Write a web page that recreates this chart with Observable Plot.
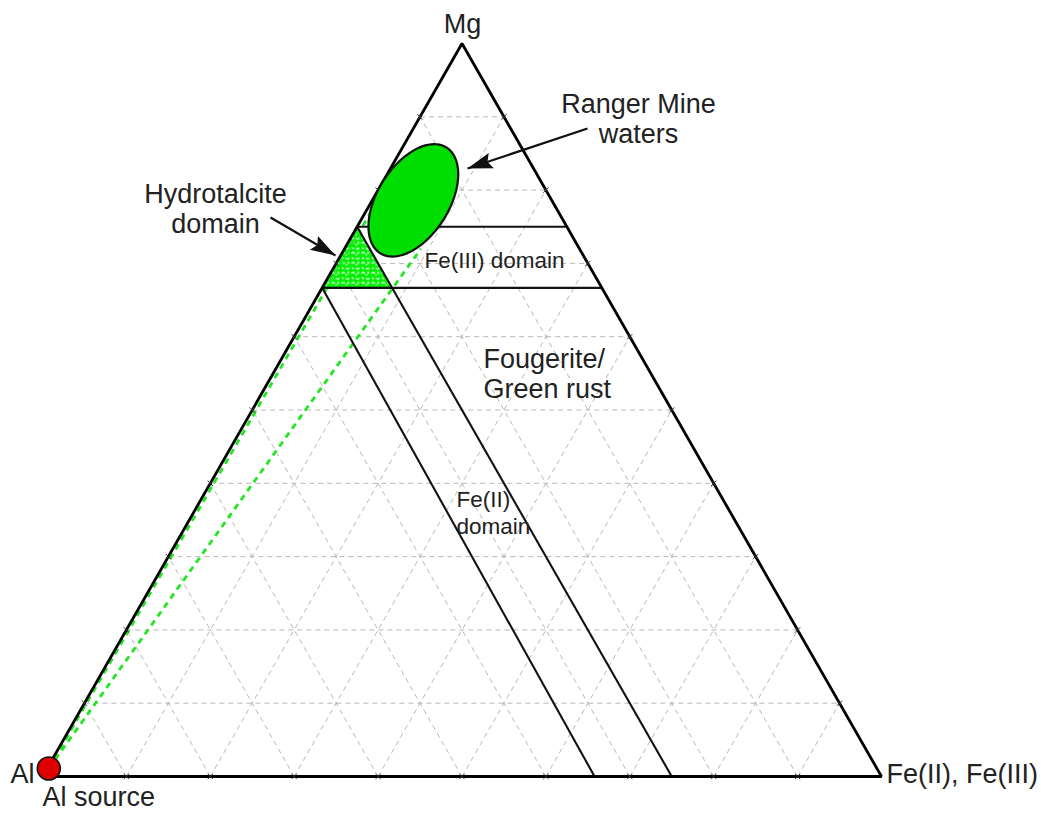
<!DOCTYPE html>
<html><head><meta charset="utf-8">
<script src="https://cdn.jsdelivr.net/npm/d3@7"></script>
<script src="https://cdn.jsdelivr.net/npm/@observablehq/plot@0.6"></script>
<style>html,body{margin:0;padding:0;background:#fff}</style>
</head><body><div id="chart"></div>
<script>
// ---------- data (ternary fractions: mg, fe; al = 1 - mg - fe) ----------
const gridFractions = [0.1, 0.2, 0.3, 0.4, 0.5, 0.6, 0.7, 0.8, 0.9];
const vertices = [
  {label: "Al", mg: 0, fe: 0},
  {label: "Fe(II), Fe(III)", mg: 0, fe: 1},
  {label: "Mg", mg: 1, fe: 0}
];
const hydrotalciteDomain = [
  {mg: 0.75, fe: 0}, {mg: 2 / 3, fe: 0}, {mg: 2 / 3, fe: 1 / 12}
];
const domainBoundaries = [
  {mg1: 0.75, fe1: 0, mg2: 0.75, fe2: 0.25},   // Mg = 3/4
  {mg1: 2 / 3, fe1: 0, mg2: 2 / 3, fe2: 1 / 3}, // Mg = 2/3
  {mg1: 0.75, fe1: 0, mg2: 0, fe2: 0.75},      // Al = 1/4
  {mg1: 2 / 3, fe1: 0, mg2: 0, fe2: 0.658}     // Al ~ 1/3
];
const alSource = [{mg: 0.011, fe: 0.002}];
const mixingLineEnds = [{mg: 0.80, fe: 0.0065}, {mg: 0.72, fe: 0.091}];
// Ranger Mine waters field: centre (ternary) and two conjugate half-axes (plot units)
const rangerCentre = {mg: 0.786, fe: 0.049};
const rangerAxisU = [0.0394, 0.0722];
const rangerAxisV = [0.0362, -0.0259];
// labels (plot x/y units: Al=(0,0), Fe=(1,0), Mg=(0.5,1))
const vertexLabels = [
  {text: "Mg", x: 0.5006, y: 1.015, anchor: "middle"},
  {text: "Al", x: -0.0381, y: -0.0095, anchor: "start"},
  {text: "Al source", x: 0.0, y: -0.0396, anchor: "start"},
  {text: "Fe(II), Fe(III)", x: 1.006, y: -0.0082, anchor: "start"}
];
const bigLabels = [
  {text: "Ranger Mine\nwaters", x: 0.7104, y: 0.8636, anchor: "middle"},
  {text: "Hydrotalcite\ndomain", x: 0.2062, y: 0.7408, anchor: "middle"},
  {text: "Fougerite/\nGreen rust", x: 0.5256, y: 0.5157, anchor: "start"}
];
const smallLabels = [
  {text: "Fe(III) domain", x: 0.4553, y: 0.6944},
  {text: "Fe(II)\ndomain", x: 0.4934, y: 0.3315}
];
const arrows = [
  {x1: 0.6496, y1: 0.8840, x2: 0.5066, y2: 0.8295},
  {x1: 0.2718, y1: 0.7626, x2: 0.3492, y2: 0.7108}
];

// ---------- helpers ----------
const tx = d => d.fe + d.mg / 2;
const ty = d => d.mg;
const W = 1041, H = 814, mL = 42, mR = 160, mT = 43, mB = 38;
const xs = Plot.scale({x: {domain: [0, 1], range: [mL, W - mR]}});
const ys = Plot.scale({y: {domain: [0, 1], range: [H - mB, mT]}});

const gridLines = [];
for (const k of gridFractions) {
  gridLines.push({a: {mg: k, fe: 0}, b: {mg: k, fe: 1 - k}});
  gridLines.push({a: {mg: 0, fe: k}, b: {mg: 1 - k, fe: k}});
  gridLines.push({a: {mg: 0, fe: 1 - k}, b: {mg: 1 - k, fe: 0}});
}
const edgeTicks = [];
for (const k of gridFractions) {
  edgeTicks.push({mg: 0, fe: k}, {mg: k, fe: 0}, {mg: k, fe: 1 - k});
}
const mixingLines = mixingLineEnds.map(e => ({a: alSource[0], b: e}));
const ellipse = d3.range(0, 361, 4).map(deg => {
  const t = deg * Math.PI / 180;
  return {
    x: tx(rangerCentre) + Math.cos(t) * rangerAxisU[0] + Math.sin(t) * rangerAxisV[0],
    y: ty(rangerCentre) + Math.cos(t) * rangerAxisU[1] + Math.sin(t) * rangerAxisV[1]
  };
});
const arrowHead = {
  draw(ctx) { ctx.moveTo(0, 0); ctx.lineTo(8, 25); ctx.lineTo(0, 21); ctx.lineTo(-8, 25); ctx.closePath(); }
};
const headAngle = a => {
  const dx = xs.apply(a.x2) - xs.apply(a.x1), dy = ys.apply(a.y2) - ys.apply(a.y1);
  return Math.atan2(dx, -dy) * 180 / Math.PI;
};

const green = "#00dd00";
const font = "'Liberation Sans', Arial, Helvetica, sans-serif";

const plot = Plot.plot({
  width: W, height: H, marginLeft: mL, marginRight: mR, marginTop: mT, marginBottom: mB,
  x: {domain: [0, 1], axis: null}, y: {domain: [0, 1], axis: null},
  style: {fontFamily: font, background: "#fff", overflow: "visible"},
  marks: [
    Plot.link(gridLines, {x1: d => tx(d.a), y1: d => ty(d.a), x2: d => tx(d.b), y2: d => ty(d.b),
      stroke: "#b8b8b8", strokeWidth: 1, strokeDasharray: "5,4"}),
    Plot.line(hydrotalciteDomain, {x: tx, y: ty, curve: "linear-closed", fill: "url(#speckle)", stroke: "none"}),
    Plot.link(mixingLines, {x1: d => tx(d.a), y1: d => ty(d.a), x2: d => tx(d.b), y2: d => ty(d.b),
      stroke: "#22e622", strokeWidth: 2.8, strokeDasharray: "6,5"}),
    Plot.link(domainBoundaries, {x1: d => tx({mg: d.mg1, fe: d.fe1}), y1: d => d.mg1,
      x2: d => tx({mg: d.mg2, fe: d.fe2}), y2: d => d.mg2, stroke: "#111", strokeWidth: 2.1}),
    Plot.line(vertices, {x: tx, y: ty, curve: "linear-closed", stroke: "#000", strokeWidth: 2.8, strokeLinejoin: "miter"}),
    Plot.dot(edgeTicks, {x: tx, y: ty, symbol: "times", r: 2.5, stroke: "#333", strokeWidth: 1}),
    Plot.line(ellipse, {x: "x", y: "y", curve: "linear-closed", fill: green, stroke: "#111", strokeWidth: 2.2}),
    Plot.dot(alSource, {x: tx, y: ty, r: 11.5, fill: "#e00000", stroke: "#111", strokeWidth: 1.6}),
    Plot.link(arrows, {x1: "x1", y1: "y1", x2: "x2", y2: "y2", stroke: "#111", strokeWidth: 2.2}),
    Plot.dot(arrows, {x: "x2", y: "y2", symbol: arrowHead, rotate: headAngle, fill: "#111", stroke: "none"}),
    Plot.text(vertexLabels, {x: "x", y: "y", text: "text", textAnchor: "start", lineAnchor: "bottom",
      fontSize: 27, fill: "#222", filter: d => d.anchor === "start"}),
    Plot.text(vertexLabels, {x: "x", y: "y", text: "text", textAnchor: "middle", lineAnchor: "bottom",
      fontSize: 27, fill: "#222", filter: d => d.anchor === "middle"}),
    Plot.text(bigLabels, {x: "x", y: "y", text: "text", textAnchor: "middle", lineAnchor: "bottom",
      fontSize: 27, lineHeight: 1.14, fill: "#222", filter: d => d.anchor === "middle"}),
    Plot.text(bigLabels, {x: "x", y: "y", text: "text", textAnchor: "start", lineAnchor: "bottom",
      fontSize: 27, lineHeight: 1.14, fill: "#222", filter: d => d.anchor === "start"}),
    Plot.text(smallLabels, {x: "x", y: "y", text: "text", textAnchor: "start", lineAnchor: "bottom",
      fontSize: 22.5, lineHeight: 1.16, fill: "#222"})
  ]
});

// speckled green fill for the hydrotalcite domain
const NS = "http://www.w3.org/2000/svg";
const defs = document.createElementNS(NS, "defs");
const pat = document.createElementNS(NS, "pattern");
pat.setAttribute("id", "speckle");
pat.setAttribute("patternUnits", "userSpaceOnUse");
pat.setAttribute("width", "10"); pat.setAttribute("height", "10");
const bg = document.createElementNS(NS, "rect");
bg.setAttribute("width", "10"); bg.setAttribute("height", "10"); bg.setAttribute("fill", "#00ee00");
const sq = document.createElementNS(NS, "path");
sq.setAttribute("d", "M1,3 q1.5,-2.4 3.2,0 M5.5,7.5 q1.5,2.2 3.2,0 M7.8,1 l0,2.4 M1.5,7 l1.8,1.4 M5,4.6 l1.6,-0.6");
sq.setAttribute("stroke", "#fff"); sq.setAttribute("stroke-width", "1.3"); sq.setAttribute("fill", "none");
pat.appendChild(bg); pat.appendChild(sq); defs.appendChild(pat);
plot.insertBefore(defs, plot.firstChild);

document.getElementById("chart").appendChild(plot);
</script>
</body></html>
